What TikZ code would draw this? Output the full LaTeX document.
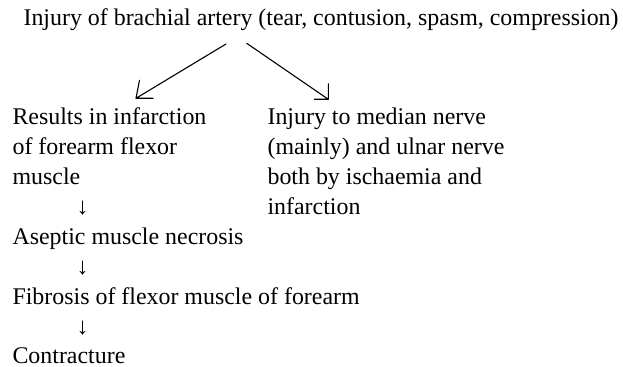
\documentclass[tikz,border=0pt]{standalone}
\usepackage{fontspec}
\setmainfont{Liberation Serif}
\begin{document}
\begin{tikzpicture}[x=0.5pt,y=-0.5pt,line join=round,line cap=round,line width=0.55pt]
\tikzset{every node/.style={inner sep=0pt,font=\fontsize{11.95}{15}\selectfont},
  txt/.style={anchor=base west,align=left}}
\useasboundingbox (0,0) rectangle (623,367);
\node[txt] (title) at (23,26) {Injury of brachial artery (tear, contusion, spasm, compression)};
\node[txt] (infarct) at (12,185) {Results in infarction\\of forearm flexor\\muscle};
\node[txt] (nerve) at (267,215) {Injury to median nerve\\(mainly) and ulnar nerve\\both by ischaemia and\\infarction};
\node[txt] (necrosis) at (12,245) {Aseptic muscle necrosis};
\node[txt] (fibrosis) at (12,305) {Fibrosis of flexor muscle of forearm};
\node[txt] (contract) at (12,364) {Contracture};
\foreach \y/\n in {215/d1,275/d2,335/d3}
  \node[anchor=base] (\n) at (82.5,\y) {↓};
\coordinate (s1) at (226,44);
\coordinate (t1) at (136,98.3);
\coordinate (s2) at (246.7,43.3);
\coordinate (t2) at (328.3,99.3);
\draw (s1) -- (t1) ++(3.5,-18) -- (t1) -- ++(17,0);
\draw (s2) -- (t2) ++(0,-15.5) -- (t2) -- ++(-14,0);
\end{tikzpicture}
\end{document}
